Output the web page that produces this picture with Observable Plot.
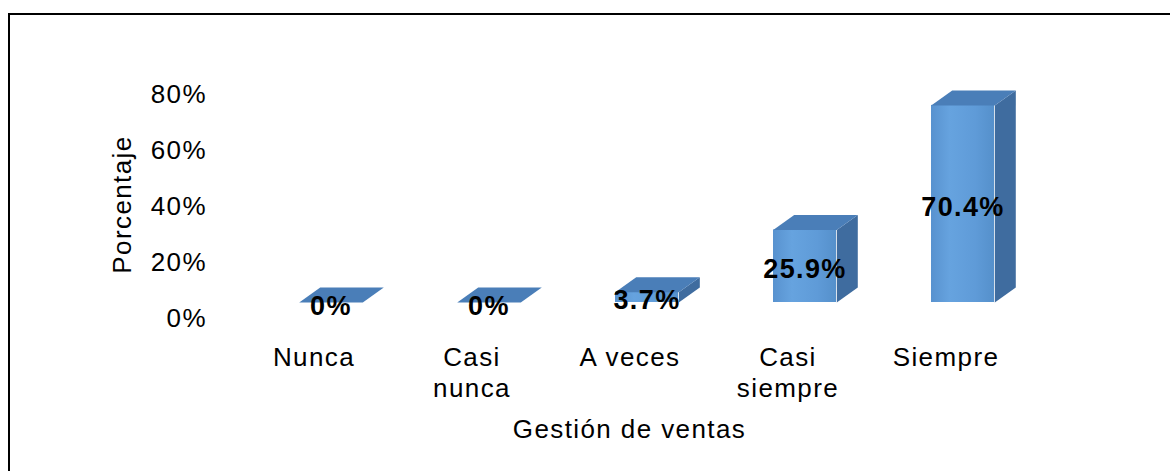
<!DOCTYPE html>
<html>
<head>
<meta charset="utf-8">
<script src="https://cdn.jsdelivr.net/npm/d3@7"></script>
<script src="https://cdn.jsdelivr.net/npm/@observablehq/plot@0.6"></script>
<style>
  html, body { margin: 0; padding: 0; background: #ffffff; overflow: hidden; }
  #wrap { position: relative; width: 1170px; height: 471px; }
  #border { position: absolute; left: 8px; top: 13px; width: 1200px; height: 500px;
            border-top: 2px solid #000; border-left: 2px solid #000; pointer-events: none; }
  #chart { position: absolute; left: 0; top: 0; }
</style>
</head>
<body>
<div id="wrap"><div id="chart"></div><div id="border"></div></div>
<script>
// ---- data ----
const categories = ["Nunca", "Casi nunca", "A veces", "Casi siempre", "Siempre"];
const values = [0, 0, 3.7, 25.9, 70.4];
const valueLabels = ["0%", "0%", "3.7%", "25.9%", "70.4%"];
const tickLabels = ["Nunca", "Casi\nnunca", "A veces", "Casi\nsiempre", "Siempre"];
const yTicks = [0, 20, 40, 60, 80];
const yTitle = "Porcentaje";
const xTitle = "Gestión de ventas";

const data = categories.map((c, i) => ({cat: c, value: values[i], label: valueLabels[i]}));

// ---- layout ----
const W = 1170, H = 471;
const mL = 202, mR = 78, mT = 78, mB = 169;
const pad = 0.6;
const bw = (W - mL - mR) / (categories.length - pad + 2 * pad) * (1 - pad);
const depthX = 21, depthY = 15;

const topShape = {
  draw(ctx) {
    ctx.moveTo(-bw / 2, 0);
    ctx.lineTo(bw / 2, 0);
    ctx.lineTo(bw / 2 + depthX, -depthY);
    ctx.lineTo(-bw / 2 + depthX, -depthY);
    ctx.closePath();
  }
};
const sideShape = {
  draw(ctx, l) {
    ctx.moveTo(bw / 2, 0);
    ctx.lineTo(bw / 2 + depthX, -depthY);
    ctx.lineTo(bw / 2 + depthX, l - depthY);
    ctx.lineTo(bw / 2, l);
    ctx.closePath();
  }
};

const defs = () => {
  const d = d3.create("svg:defs");
  const g = d.append("linearGradient").attr("id", "frontGrad")
    .attr("x1", "0").attr("x2", "1").attr("y1", "0").attr("y2", "0");
  g.append("stop").attr("offset", "0").attr("stop-color", "#5892cf");
  g.append("stop").attr("offset", "0.3").attr("stop-color", "#66a3df");
  g.append("stop").attr("offset", "0.7").attr("stop-color", "#5f9bd8");
  g.append("stop").attr("offset", "1").attr("stop-color", "#5590cb");
  return d.node();
};

const chart = Plot.plot({
  width: W, height: H,
  marginLeft: mL, marginRight: mR, marginTop: mT, marginBottom: mB,
  style: {fontFamily: "'Liberation Sans', Arial, sans-serif", fontSize: "26px",
          letterSpacing: "1.4px", color: "#000", background: "transparent"},
  x: {domain: categories, padding: pad},
  y: {domain: [0, 80]},
  length: {type: "linear", domain: [0, 80], range: [0, H - mT - mB]},
  marks: [
    defs,
    Plot.axisY({ticks: yTicks, tickFormat: d => d + "%", tickSize: 0, tickPadding: 0,
                dx: 4.5, dy: 16, label: null}),
    Plot.axisX({tickSize: 0, tickPadding: 41.5, dx: -17, lineHeight: 1.19, label: null,
                tickFormat: d => tickLabels[categories.indexOf(d)]}),
    Plot.text([yTitle], {frameAnchor: "left", textAnchor: "middle", rotate: -90, dx: -80, dy: 14}),
    Plot.text([xTitle], {frameAnchor: "bottom", lineAnchor: "bottom", dx: -18, dy: 135}),
    Plot.barY(data, {x: "cat", y: "value", fill: "url(#frontGrad)"}),
    Plot.vector(data, {x: "cat", y: "value", length: "value", anchor: "start", rotate: 0,
                       shape: sideShape, fill: "#3f6c9f", stroke: "none"}),
    Plot.vector(data, {x: "cat", y: "value", length: 0, anchor: "start", rotate: 0,
                       shape: topShape, fill: "#4a7eb8", stroke: "none"}),
    Plot.text(data, {x: "cat", y: d => d.value / 2, text: "label", fontWeight: "bold",
                     fontSize: 27, letterSpacing: 1.2, dy: 3.5, fill: "#000"})
  ]
});
document.getElementById("chart").appendChild(chart);
</script>
</body>
</html>
